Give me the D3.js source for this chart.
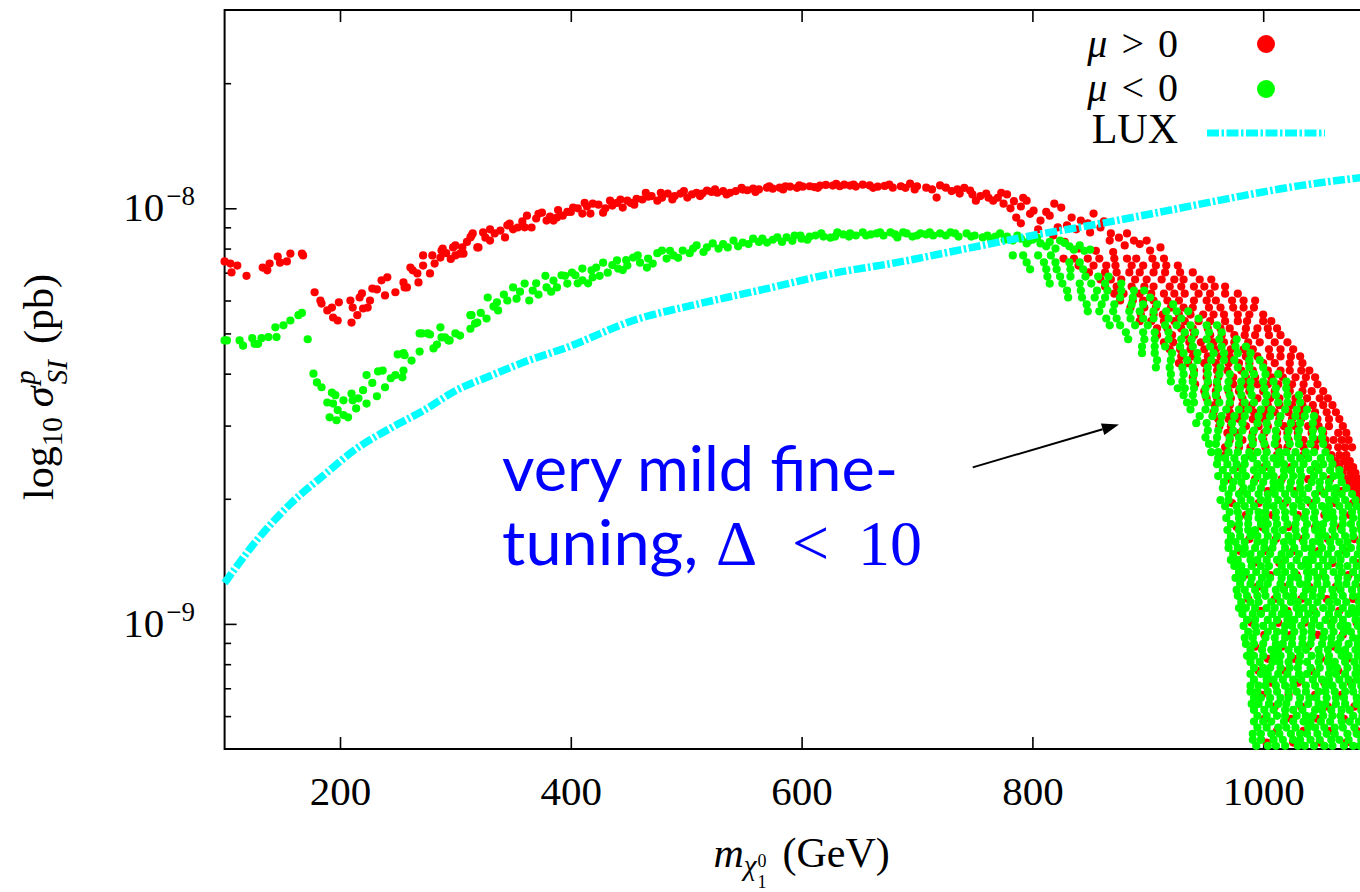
<!DOCTYPE html>
<html>
<head>
<meta charset="utf-8">
<script src="https://cdn.jsdelivr.net/npm/d3@7"></script>
<style>
  html, body { margin: 0; padding: 0; background: #fff; }
  svg { display: block; }
</style>
</head>
<body>
<svg id="chart" width="1360" height="892"></svg>
<script>
// Spin-independent neutralino-proton cross section vs. neutralino mass,
// for mu > 0 and mu < 0 scan points, with the LUX exclusion limit.

const SIGMA_UNIT = 1e-9;               // sigma values in the point lists are in units of 1e-9 pb

const massDomain = [100, 1100];         // GeV
const sigmaDomain = [5e-10, 3e-8];      // pb
const massTicks = [200, 400, 600, 800, 1000];
const sigmaMajorTicks = [1e-9, 1e-8];
const sigmaTickExponents = ["\u22129", "\u22128"];
const sigmaMinorTicks = [6e-10, 7e-10, 8e-10, 9e-10, 2e-9, 3e-9, 4e-9, 5e-9, 6e-9, 7e-9, 8e-9, 9e-9, 2e-8];

// mu > 0 points along the low-mass band: [mass (GeV), sigma (1e-9 pb)]
const redBand = [
  [100,7.45],[105,7.36],[106,7.01],[111,7.28],[119,6.88],[133,7.2],[137,7.09],[139,7.36],[146,7.65],[148,7.4],
  [154,7.45],[157,7.78],[167,7.78],[168,7.7],
  [178,6.28],[183,6.0],[184,5.9],[189,5.68],[193,5.77],[194,5.46],[198,5.37],[199,5.94],[209,6.0],[210,5.31],
  [211,5.77],[215,5.53],[217,6.1],[219,6.24],[220,5.74],[224,5.77],[226,6.0],[228,6.41],[232,6.38],[236,6.71],
  [239,6.17],[241,6.82],[248,6.28],[255,6.63],[256,6.45],[258,6.45],[261,7.2],[263,7.09],[267,6.97],[268,6.63],
  [272,7.7],[272,7.28],[278,6.97],[280,7.7],[282,7.36],[287,7.61],[288,7.91],[289,8.0],[292,7.8],[296,7.55],
  [298,8.05],[300,8.14],[300,7.7],[304,7.78],[306,8.05],[307,7.78],[310,8.3],[313,8.51],[314,8.6],[315,8.7],
  [319,8.05],[320,8.05],[324,8.75],[326,8.5],[330,8.36],[330,8.9],[334,8.7],[339,8.84],[343,8.51],[345,9.1],
  [347,9.19],[350,8.9],[354,8.99],[358,9.3],[360,9.0],[362,9.6],[366,8.99],[370,9.45],[372,9.7],[375,9.76],
  [379,9.34],[382,9.55],[385,9.34],[388,9.5],[389,9.9],[393,9.6],[397,9.8],[400,9.8],[402,10.04],[406,10.0],
  [410,9.71],[412,10.3],[414,10.1],[417,9.71],[419,10.26],[424,10.2],[428,9.76],[430,10.0],[434,10.43],[436,10.15],
  [440,10.3],[443,10.5],[445,10.04],[449,10.43],[452,10.3],[455,10.2],[457,10.54],[462,10.5],[465,10.9],[467,10.66],
  [470,10.7],[475,10.43],[478,10.9],[479,10.6],[484,10.85],[488,10.5],[490,10.7],[495,10.85],[498,11.0],[501,10.61],
  [505,10.8],[509,10.9],[512,10.7],[514,10.85],[518,11.03],[522,10.95],[525,11.1],[527,10.9],[532,11.0],[535,10.8],
  [538,10.9],[543,11.0],[548,11.2],[549,11.09],[553,11.05],[558,11.15],[560,10.95],[563,11.1],[570,11.21],[572,11.3],
  [575,11.15],[581,11.21],[584,11.1],[586,11.3],[590,11.27],[596,11.2],[598,11.35],[601,11.27],[607,11.3],[611,11.25],
  [614,11.2],[616,11.34],[621,11.38],[627,11.34],[630,11.45],[633,11.3],[637,11.4],[642,11.34],[645,11.4],[647,11.28],
  [653,11.4],[659,11.35],[662,11.2],[666,11.27],[672,11.32],[676,11.4],[679,11.21],[686,11.3],[690,11.2],[694,11.46],
  [698,11.1],[700,11.3],[708,11.21],[713,11.1],[717,10.61],[720,11.35],[725,11.21],[730,11.0],[735,11.1],[737,10.85],
  [741,11.2],[746,11.03],[748,10.8],[751,10.43],[755,10.7],[760,10.85],[762,10.6],[766,10.43],[770,10.6],[773,10.9],
  [775,10.26],[778,10.8],[781,10.0],[784,10.4],[786,9.5],[790,10.1],[790,9.2],[792,10.6],[795,10.43],[798,9.7],
  [801,9.87],[805,8.9],[807,9.34],[812,9.8],[815,9.6],[818,8.6],[819,10.26],[822,9.0],[825,10.04],[828,8.3],
  [830,9.1],[834,9.5],[838,8.9],[840,8.0],[842,9.34],[848,9.2],[850,8.75],[853,9.71],[855,7.9],[859,8.99],
  [862,9.3],[867,8.36],[868,8.7],[870,7.85],[875,8.5],[880,8.14],[882,8.7],[888,8.36],[893,8.2],[899,8.36],
  [902,7.91],[911,8.05]
];

// mu < 0 points along the low-mass band
const greenBand = [
  [100,4.81],[102,4.81],[113,4.81],[116,4.67],[124,4.87],[126,4.72],[129,4.72],[132,4.87],[138,4.9],[144,5.17],
  [145,4.9],[151,5.23],[157,5.37],[164,5.53],[167,5.6],[172,4.84],
  [177,4.0],[180,3.81],[184,3.71],[189,3.41],[191,3.14],[193,3.6],[194,3.39],[196,3.55],[197,3.09],[198,3.27],
  [203,3.45],[203,3.18],[207,3.14],[210,3.58],[211,3.45],[214,3.3],[216,3.49],[220,3.65],[223,3.97],[223,3.39],
  [228,3.8],[232,3.53],[233,4.05],[237,4.07],[239,3.71],[244,3.9],[248,3.97],[250,4.45],[254,3.92],[255,4.48],
  [255,4.07],[256,4.43],[262,4.3],[269,4.52],[269,5.0],[271,5.0],[276,5.0],[278,4.97],[281,4.6],[284,4.7],
  [287,5.17],[288,4.89],[291,4.89],[294,4.81],[295,4.81],[300,5.0],[304,4.94],[313,5.13],[313,5.53],[314,5.53],
  [317,5.28],[319,5.31],[322,5.6],[327,5.43],[328,6.1],[333,5.8],[336,5.94],[337,5.68],[342,6.2],[345,6.0],
  [350,6.45],[353,6.06],[356,6.3],[360,6.59],[364,6.0],[367,6.34],[370,6.6],[372,6.2],[378,6.88],[379,6.45],
  [383,6.3],[385,6.7],[388,6.45],[392,6.9],[395,6.88],[397,6.59],[401,7.0],[404,6.9],[406,6.6],[410,7.16],
  [410,6.71],[415,6.6],[418,7.09],[419,6.82],[422,7.2],[425,6.88],[428,7.4],[432,7.0],[436,7.3],[440,7.49],
  [441,7.16],[445,7.1],[448,7.5],[449,7.28],[454,7.61],[458,7.7],[460,7.4],[466,7.2],[467,7.57],[471,7.36],
  [475,7.8],[479,7.91],[483,7.57],[486,7.9],[489,7.7],[493,7.6],[497,7.91],[503,7.8],[506,8.0],[509,8.14],
  [515,7.85],[518,8.05],[523,8.23],[528,8.0],[532,8.2],[536,8.05],[541,8.36],[545,8.1],[549,8.27],[554,8.2],
  [558,8.45],[563,8.3],[566,8.45],[570,8.27],[575,8.4],[579,8.51],[583,8.3],[587,8.51],[592,8.35],[594,8.6],
  [599,8.6],[600,8.45],[605,8.4],[607,8.55],[612,8.6],[617,8.7],[619,8.55],[625,8.5],[629,8.55],[631,8.75],
  [636,8.65],[641,8.55],[642,8.7],[647,8.6],[653,8.75],[656,8.6],[660,8.65],[665,8.7],[668,8.75],[671,8.6],
  [677,8.75],[681,8.65],[683,8.51],[688,8.75],[691,8.7],[696,8.55],[700,8.6],[703,8.7],[708,8.65],[711,8.75],
  [714,8.6],[720,8.7],[725,8.6],[729,8.75],[733,8.7],[736,8.55],[743,8.7],[747,8.55],[750,8.6],[757,8.51],
  [761,8.6],[764,8.45],[768,8.55],[772,8.7],[776,8.4],[778,8.55],[783,8.36],[787,8.6],[790,8.45],[795,8.23],
  [797,8.35],[800,8.4],[804,8.5],[807,8.23],[812,8.1],[815,8.3],[820,8.0],[824,8.36],[828,8.25],[832,8.1],
  [836,7.95],[841,8.14],[845,7.9],[850,7.95]
];

// mu > 0 points across the high-mass arc: [sigma (1e-9 pb), masses (GeV) at that sigma]
const redArcRows = [
  [7.57,[827,836,848,858,871,882,890,904,914]],
  [7.28,[840,853,864,872,886,896,907,916,926]],
  [7.01,[849,863,873,884,893,905,915,928,939]],
  [6.74,[859,868,877,889,899,912,923,931,945,955]],
  [6.48,[863,873,886,897,905,919,929,940,949,958,967]],
  [6.23,[871,879,893,903,914,923,932,944,954,967,978]],
  [6.00,[876,887,896,905,917,927,940,951,959,973,983,993]],
  [5.77,[885,897,907,920,931,939,953,963,974,983,992]],
  [5.55,[894,905,913,927,937,948,957,966,978,988,1000]],
  [5.35,[893,903,914,923,932,944,954,967,978,986,1000,1007]],
  [5.14,[908,917,929,939,952,963,971,985,995,1004,1012]],
  [4.95,[908,921,932,940,954,964,975,984,993,1005,1015]],
  [4.76,[914,922,936,946,957,966,975,987,997,1010,1021]],
  [4.58,[919,928,937,949,959,972,983,991,1005,1015,1026]],
  [4.40,[929,939,952,963,971,985,995,1006,1015,1024,1032]],
  [4.24,[927,935,949,959,970,979,988,1000,1010,1023,1034]],
  [4.07,[940,951,960,969,981,991,1004,1015,1023,1033,1040]],
  [3.92,[939,951,961,974,985,993,1007,1017,1028,1037,1045]],
  [3.77,[941,952,960,974,984,995,1004,1013,1025,1035,1047]],
  [3.63,[949,959,970,979,988,1000,1010,1023,1034,1042,1052]],
  [3.49,[951,960,972,982,995,1006,1014,1028,1038,1049,1056]],
  [3.36,[958,971,982,990,1004,1014,1025,1034,1043,1052,1060]],
  [3.23,[957,971,981,992,1001,1010,1022,1032,1045,1055,1063]],
  [3.11,[961,970,979,991,1001,1014,1025,1033,1047,1057,1066]],
  [2.99,[962,972,985,996,1004,1018,1028,1039,1048,1057,1069]],
  [2.88,[969,977,991,1001,1012,1021,1030,1042,1052,1065,1072]],
  [2.77,[971,982,991,1000,1012,1022,1035,1046,1054,1061,1068,1074]],
  [2.66,[967,979,989,1002,1013,1021,1035,1045,1056,1065,1071,1077]],
  [2.546,[967,989,1012,1035,1059,1066,1072]],
  [2.464,[1063,1070,1075]],
  [2.383,[978,1001,1024,1046,1066,1073,1078]],
  [2.306,[1069,1076,1080]],
  [2.230,[970,993,1016,1039,1058,1072,1078,1083]],
  [2.157,[1075,1081,1086]],
  [2.087,[982,1004,1027,1050,1068,1078,1084]],
  [2.019,[1081,1086]],
  [1.953,[973,996,1019,1041,1062,1078,1084]],
  [1.828,[985,1008,1030,1053,1075]],
  [1.710,[977,999,1022,1045,1067,1085]],
  [1.600,[988,1011,1034,1056,1079]],
  [1.497,[980,1003,1026,1048,1071]],
  [1.401,[992,1014,1037,1060,1082]],
  [1.311,[984,1006,1029,1052,1074]],
  [1.227,[995,1018,1040,1063,1085]],
  [1.148,[987,1010,1033,1055,1078]],
  [1.075,[998,1021,1044,1066]],
  [1.006,[990,1013,1036,1059,1081]],
  [0.941,[1001,1024,1047,1069]],
  [0.881,[993,1016,1039,1062,1084]],
  [0.824,[1004,1027,1050,1073]],
  [0.771,[996,1019,1042,1065,1086]],
  [0.722,[1007,1030,1053,1076]],
  [0.675,[999,1022,1045,1068]],
  [0.632,[1010,1033,1056,1079]],
  [0.591,[1001,1024,1047,1070]],
  [0.553,[1012,1035,1058,1081]],
  [0.518,[1003,1026,1049,1072]]
];

// mu < 0 points across the high-mass arc
const greenArcRows = [
  [7.70,[783,792,805,816]],
  [7.41,[795,810,820,832,841]],
  [7.13,[798,812,821,833,844]],
  [6.85,[813,824,833,846,857,866]],
  [6.59,[815,826,841,851,863,877]],
  [6.34,[830,842,856,865,877,888,897]],
  [6.10,[831,843,854,863,876,887,902]],
  [5.87,[847,860,871,886,896,908,922]],
  [5.65,[848,858,870,884,893,905,916,925,935]],
  [5.43,[864,873,885,896,905,918,929,944]],
  [5.23,[867,876,889,900,915,925,937,951,960]],
  [5.03,[881,896,906,918,932,941,953,964]],
  [4.84,[883,897,906,918,929,938,951,962,977]],
  [4.65,[895,906,915,928,939,954,964,976,985]],
  [4.48,[895,906,921,931,943,957,966,978,989]],
  [4.31,[908,920,934,943,955,966,975,988,997]],
  [4.14,[907,919,930,939,952,963,978,988,1000]],
  [3.99,[920,931,940,952,962,971,984,992,1002,1013]],
  [3.83,[920,930,939,952,960,970,981,989,1000,1009,1020]],
  [3.69,[926,932,940,950,961,969,980,989,1001,1011,1020]],
  [3.55,[931,939,950,959,971,981,990,1003,1011,1021,1031]],
  [3.41,[934,940,952,962,971,984,992,1002,1013,1021,1032]],
  [3.28,[937,950,958,968,979,987,998,1007,1019,1029,1038]],
  [3.16,[945,956,964,975,984,996,1006,1015,1028,1036,1044]],
  [3.04,[942,951,963,973,982,995,1003,1013,1024,1032,1043]],
  [2.92,[952,961,974,982,992,1003,1011,1022,1031,1043,1051]],
  [2.81,[950,960,971,979,990,999,1011,1021,1030,1043,1051]],
  [2.71,[953,959,970,979,991,1001,1010,1023,1031,1041,1052]],
  [2.589,[955,961,970,978,988,995,1003,1014,1020,1028,1037,1044,1054]],
  [2.504,[961,967,975,984,991,1001,1009,1015,1024,1032,1039,1050,1058]],
  [2.423,[960,969,977,984,995,1003,1012,1018,1027,1035,1045,1052,1060]],
  [2.344,[965,974,982,992,999,1007,1018,1024,1032,1041,1048,1058,1066]],
  [2.268,[961,969,978,985,995,1003,1009,1018,1026,1033,1044,1052,1061,1067]],
  [2.193,[966,974,981,992,1000,1009,1015,1024,1032,1042,1049,1057,1068]],
  [2.122,[965,973,983,990,998,1009,1015,1023,1032,1039,1049,1057,1063,1072]],
  [2.053,[970,979,986,996,1004,1010,1019,1027,1034,1045,1053,1062,1068,1077]],
  [1.986,[963,970,981,989,998,1004,1013,1021,1031,1038,1046,1057,1063,1071,1080]],
  [1.920,[967,977,984,992,1003,1009,1017,1026,1033,1043,1051,1057,1066,1074,1081]],
  [1.858,[971,978,988,996,1002,1011,1019,1026,1037,1045,1054,1060,1069,1077,1085]],
  [1.797,[968,979,987,996,1002,1011,1019,1029,1036,1044,1055,1061,1069,1078,1085]],
  [1.739,[972,979,987,998,1004,1012,1021,1028,1038,1046,1052,1061,1069,1076,1084]],
  [1.682,[969,979,987,993,1002,1010,1017,1028,1036,1045,1051,1060,1068,1078,1085]],
  [1.627,[972,980,989,995,1004,1012,1022,1029,1037,1048,1054,1062,1071,1078,1086]],
  [1.574,[970,976,984,995,1001,1009,1018,1025,1035,1043,1049,1058,1066,1073,1084]],
  [1.523,[970,978,984,993,1001,1008,1019,1027,1036,1042,1051,1059,1069,1076,1084]],
  [1.473,[974,983,989,998,1006,1016,1023,1031,1042,1048,1056,1065,1072,1082]],
  [1.425,[972,978,989,995,1003,1012,1019,1029,1037,1043,1052,1060,1067,1078,1086]],
  [1.378,[975,981,990,998,1005,1016,1024,1033,1039,1048,1056,1066,1073,1081]],
  [1.333,[979,985,994,1002,1012,1019,1027,1038,1044,1052,1061,1068,1078,1086]],
  [1.290,[976,982,990,999,1006,1016,1024,1030,1039,1047,1054,1065,1073,1082]],
  [1.248,[980,989,997,1004,1015,1023,1032,1038,1047,1055,1065,1072,1080]],
  [1.207,[977,984,993,1001,1011,1018,1026,1037,1043,1051,1060,1067,1077,1085]],
  [1.168,[978,986,995,1002,1012,1020,1026,1035,1043,1050,1061,1069,1078,1084]],
  [1.129,[981,989,996,1007,1015,1024,1030,1039,1047,1057,1064,1072,1083]],
  [1.092,[979,985,993,1003,1010,1018,1029,1035,1043,1052,1059,1069,1077,1083]],
  [1.057,[982,991,998,1008,1016,1022,1031,1039,1046,1057,1065,1074,1080,1086]],
  [1.022,[986,993,1004,1012,1021,1027,1036,1044,1054,1061,1069,1080,1086]],
  [0.989,[983,993,1000,1008,1019,1025,1033,1042,1049,1059,1067,1073,1082]],
  [0.957,[987,994,1004,1012,1018,1027,1035,1042,1053,1061,1070,1076,1085]],
  [0.926,[984,991,1002,1010,1019,1025,1034,1042,1052,1059,1067,1078,1084]],
  [0.895,[985,992,1000,1011,1017,1025,1034,1041,1051,1059,1065,1074,1082]],
  [0.866,[989,999,1007,1013,1022,1030,1037,1048,1056,1065,1071,1080,1086]],
  [0.838,[986,992,1000,1009,1015,1024,1032,1042,1049,1057,1068,1074,1082]],
  [0.810,[989,997,1008,1014,1022,1031,1038,1048,1056,1062,1071,1079,1086]],
  [0.784,[992,1000,1006,1015,1023,1030,1041,1049,1058,1064,1073,1081]],
  [0.758,[989,998,1004,1013,1021,1031,1038,1046,1057,1063,1071,1080,1086]],
  [0.734,[992,1003,1009,1017,1026,1033,1043,1051,1057,1066,1074,1081]],
  [0.710,[989,996,1002,1011,1019,1026,1037,1045,1054,1060,1069,1077,1085]],
  [0.687,[989,995,1004,1012,1022,1029,1037,1048,1054,1062,1071,1078,1086]],
  [0.664,[992,998,1006,1015,1022,1032,1040,1046,1055,1063,1070,1081]],
  [0.642,[990,996,1005,1013,1020,1031,1039,1048,1054,1063,1071,1081]],
  [0.621,[992,1001,1009,1019,1026,1034,1045,1051,1059,1068,1075,1085]],
  [0.601,[995,1003,1012,1019,1029,1037,1043,1052,1060,1067,1078,1086]],
  [0.582,[992,1000,1007,1018,1026,1035,1041,1050,1058,1068,1075,1083]],
  [0.563,[995,1003,1013,1020,1028,1039,1045,1053,1062,1069,1079]],
  [0.544,[991,998,1007,1014,1024,1032,1038,1047,1055,1062,1073,1081]],
  [0.526,[991,998,1009,1017,1026,1032,1041,1049,1059,1066,1074,1085]],
  [0.509,[994,1004,1011,1019,1030,1036,1044,1053,1060,1070,1078,1084]]
];

// LUX upper limit: [mass (GeV), sigma (1e-9 pb)]
const luxLimit = [
  [100,1.254],[128,1.59],[157.5,1.95],[186,2.28],[215,2.65],[244,2.96],[273,3.27],[301,3.65],
  [331,3.96],[359,4.26],[397,4.63],[454,5.37],[512,5.90],[570,6.41],[627,6.97],[683,7.41],
  [743,8.0],[800,8.6],[859,9.19],[917,9.87],[974,10.61],[1032,11.34],[1084,11.85],[1100,12.0]
];

// Annotation anchors in data coordinates
const noteLine1 = { mass: 340.5, sigma: 2.09, text: "very mild fine-" };
const noteLine2 = { mass: 340.5, sigma: 1.386, text: "tuning," };
const arrowFrom = { mass: 748.3, sigma: 2.38 };
const arrowTo = { mass: 875.0, sigma: 3.02 };

const SERIF = "'Liberation Serif', 'DejaVu Serif', serif";
const SANS = "Lato, 'Open Sans', 'DejaVu Sans', sans-serif";
const RED = "#ff0000", GREEN = "#00ff00", CYAN = "#00ffff", BLUE = "#0000ff";
const POINT_R = 4.1;
const LUX_DASH = "12,2.5,2.5,2.5";

const svg = d3.select("#chart");
const plotLeft = 224.6, plotTop = 10, plotW = 1154, plotH = 739;
const plotBottom = plotTop + plotH, plotRight = plotLeft + plotW;

const x = d3.scaleLinear().domain(massDomain).range([plotLeft, plotRight]);
const y = d3.scaleLog().domain(sigmaDomain).range([plotBottom, plotTop]);
const ySig = s => y(s * SIGMA_UNIT);

const rowsToPoints = rows => rows.flatMap(([s, masses]) => masses.map(m => [m, s]));

// Frame
svg.append("rect")
  .attr("x", plotLeft).attr("y", plotTop).attr("width", plotW).attr("height", plotH)
  .attr("fill", "none").attr("stroke", "#000").attr("stroke-width", 2);

function styleAxis(g, w) {
  g.select(".domain").remove();
  g.selectAll(".tick line").attr("stroke", "#000").attr("stroke-width", w);
}

// Bottom axis
const gx = svg.append("g").attr("transform", `translate(0,${plotBottom})`)
  .call(d3.axisBottom(x).tickValues(massTicks).tickSizeInner(-12).tickSizeOuter(0)
    .tickPadding(27).tickFormat(d3.format("d")));
styleAxis(gx, 1.6);
gx.selectAll(".tick text").attr("font-family", SERIF).attr("font-size", 41).attr("fill", "#000");

// Top axis (ticks only)
const gxt = svg.append("g").attr("transform", `translate(0,${plotTop})`)
  .call(d3.axisTop(x).tickValues(massTicks).tickSizeInner(-12).tickSizeOuter(0).tickFormat(""));
styleAxis(gxt, 1.6);

// Right axis (ticks only)
const gyr = svg.append("g").attr("transform", `translate(${plotRight},0)`)
  .call(d3.axisRight(y).tickValues(sigmaMajorTicks).tickSizeInner(-12).tickSizeOuter(0).tickFormat(""));
styleAxis(gyr, 1.6);

// Left axis, major ticks with power-of-ten labels
const gy = svg.append("g").attr("transform", `translate(${plotLeft},0)`)
  .call(d3.axisLeft(y).tickValues(sigmaMajorTicks).tickSizeInner(-12).tickSizeOuter(0)
    .tickPadding(29.6).tickFormat(() => ""));
styleAxis(gy, 1.6);
gy.selectAll(".tick text")
  .attr("font-family", SERIF).attr("font-size", 41).attr("fill", "#000").attr("dy", "0.3em")
  .each(function (d, i) {
    const t = d3.select(this);
    t.append("tspan").text("10");
    t.append("tspan").attr("font-size", 27).attr("dy", -16).attr("dx", 2).text(sigmaTickExponents[i]);
  });

// Left axis, minor ticks
const gym = svg.append("g").attr("transform", `translate(${plotLeft},0)`)
  .call(d3.axisLeft(y).tickValues(sigmaMinorTicks).tickSizeInner(-6.5).tickSizeOuter(0).tickFormat(""));
styleAxis(gym, 1.6);

// Scatter points: mu > 0 first, mu < 0 drawn over them
const redPoints = redBand.concat(rowsToPoints(redArcRows));
const greenPoints = greenBand.concat(rowsToPoints(greenArcRows));

svg.append("g").selectAll("circle").data(redPoints).join("circle")
  .attr("cx", d => x(d[0])).attr("cy", d => ySig(d[1])).attr("r", POINT_R).attr("fill", RED);
svg.append("g").selectAll("circle").data(greenPoints).join("circle")
  .attr("cx", d => x(d[0])).attr("cy", d => ySig(d[1])).attr("r", POINT_R).attr("fill", GREEN);

// LUX limit
const luxLine = d3.line().x(d => x(d[0])).y(d => ySig(d[1])).curve(d3.curveMonotoneX);
svg.append("path").datum(luxLimit)
  .attr("d", luxLine).attr("fill", "none").attr("stroke", CYAN)
  .attr("stroke-width", 7.5).attr("stroke-dasharray", LUX_DASH);

// Legend
const legend = svg.append("g").attr("font-family", SERIF).attr("font-size", 40).attr("fill", "#000");
const legendRows = [
  { y: 57, parts: ["\u03bc", ">", "0"], kind: "dot", color: RED, cy: 44 },
  { y: 101, parts: ["\u03bc", "<", "0"], kind: "dot", color: GREEN, cy: 89 },
  { y: 143, parts: ["LUX"], kind: "line", color: CYAN, cy: 133 }
];
legendRows.forEach(r => {
  const t = legend.append("text").attr("x", 1178).attr("y", r.y).attr("text-anchor", "end");
  if (r.parts.length === 3) {
    t.append("tspan").attr("font-style", "italic").text(r.parts[0]);
    t.append("tspan").attr("dx", 14).text(r.parts[1]);
    t.append("tspan").attr("dx", 14).text(r.parts[2]);
  } else {
    t.append("tspan").attr("font-size", 42).text(r.parts[0]);
  }
  if (r.kind === "dot") {
    legend.append("circle").attr("cx", 1266).attr("cy", r.cy).attr("r", 9).attr("fill", r.color);
  } else {
    legend.append("line").attr("x1", 1207).attr("x2", 1325).attr("y1", r.cy).attr("y2", r.cy)
      .attr("stroke", r.color).attr("stroke-width", 7).attr("stroke-dasharray", LUX_DASH);
  }
});

// Axis titles
const yTitle = svg.append("text")
  .attr("transform", "translate(53,387) rotate(-90)")
  .attr("text-anchor", "middle").attr("font-family", SERIF).attr("font-size", 42).attr("fill", "#000");
yTitle.append("tspan").text("log");
yTitle.append("tspan").attr("font-size", 29).attr("dy", 9).text("10");
yTitle.append("tspan").attr("font-style", "italic").attr("dy", -9).attr("dx", 10).text("\u03c3");
yTitle.append("tspan").attr("font-size", 29).attr("font-style", "italic").attr("dy", -18).attr("dx", 2).text("p");
yTitle.append("tspan").attr("font-size", 29).attr("font-style", "italic").attr("dy", 32).attr("dx", -14).text("SI");
yTitle.append("tspan").attr("dy", -14).attr("dx", 16).text("(pb)");

const xTitle = svg.append("text")
  .attr("x", (plotLeft + plotRight) / 2).attr("y", 867)
  .attr("text-anchor", "middle").attr("font-family", SERIF).attr("font-size", 42).attr("fill", "#000");
xTitle.append("tspan").attr("font-style", "italic").text("m");
xTitle.append("tspan").attr("font-style", "italic").attr("font-size", 29).attr("dy", 8).text("\u03c7");
xTitle.append("tspan").attr("font-size", 18).attr("dy", -8).attr("dx", 1).text("0");
xTitle.append("tspan").attr("font-size", 18).attr("dy", 21).attr("dx", -9).text("1");
xTitle.append("tspan").attr("dy", -21).attr("dx", 16).text("(GeV)");

// Annotation
const note = svg.append("g").attr("fill", BLUE);
note.append("text").attr("x", x(noteLine1.mass)).attr("y", ySig(noteLine1.sigma))
  .attr("font-family", SANS).attr("font-size", 62)
  .attr("textLength", 396).attr("lengthAdjust", "spacingAndGlyphs").text(noteLine1.text);
note.append("text").attr("x", x(noteLine2.mass)).attr("y", ySig(noteLine2.sigma))
  .attr("font-family", SANS).attr("font-size", 62)
  .attr("textLength", 196).attr("lengthAdjust", "spacingAndGlyphs").text(noteLine2.text);
const mathY = ySig(noteLine2.sigma);
note.append("text").attr("x", 716).attr("y", mathY).attr("font-family", SERIF).attr("font-size", 64).text("\u0394");
note.append("text").attr("x", 792).attr("y", mathY).attr("font-family", SERIF).attr("font-size", 66).text("<");
note.append("text").attr("x", 858).attr("y", mathY).attr("font-family", SERIF).attr("font-size", 64).text("10");

// Arrow
const ax0 = x(arrowFrom.mass), ay0 = ySig(arrowFrom.sigma);
const ax1 = x(arrowTo.mass), ay1 = ySig(arrowTo.sigma);
const ang = Math.atan2(ay1 - ay0, ax1 - ax0);
const headLen = 17, headHalf = 6;
const bx = ax1 - headLen * Math.cos(ang), by = ay1 - headLen * Math.sin(ang);
svg.append("line").attr("x1", ax0).attr("y1", ay0).attr("x2", bx).attr("y2", by)
  .attr("stroke", "#000").attr("stroke-width", 2);
svg.append("path")
  .attr("d", `M${ax1},${ay1}L${bx - headHalf * Math.sin(ang)},${by + headHalf * Math.cos(ang)}L${bx + headHalf * Math.sin(ang)},${by - headHalf * Math.cos(ang)}Z`)
  .attr("fill", "#000");
</script>
</body>
</html>
